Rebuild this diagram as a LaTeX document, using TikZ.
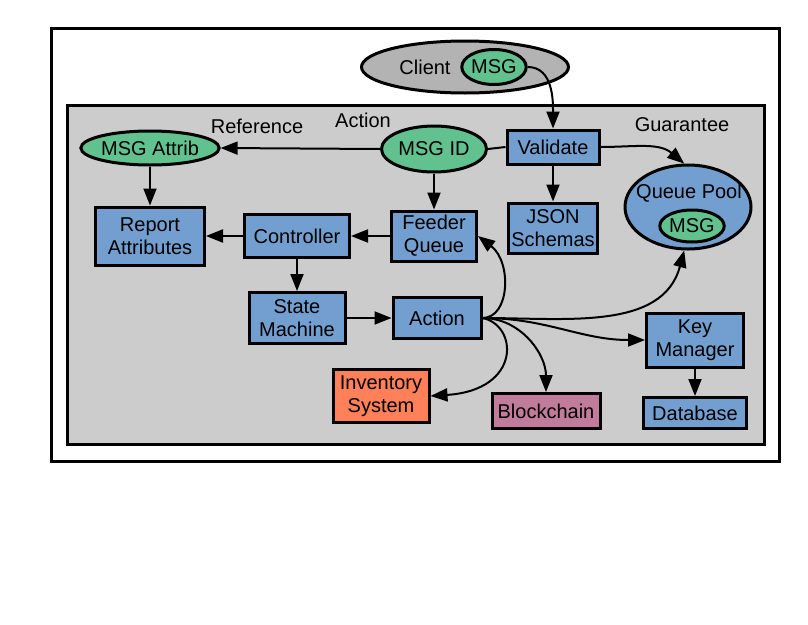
\documentclass[tikz,border=0pt]{standalone}
\usepackage{fontspec}
\setmainfont{Liberation Sans}
\usetikzlibrary{arrows.meta,positioning,shapes.geometric}
\definecolor{boxblue}{RGB}{114,159,207}
\definecolor{msggreen}{RGB}{98,194,143}
\definecolor{clientgray}{RGB}{179,179,179}
\definecolor{panelgray}{RGB}{204,204,204}
\definecolor{invorange}{RGB}{255,128,89}
\definecolor{chainpink}{RGB}{194,124,155}

\begin{document}
\begin{tikzpicture}[x=1pt,y=-1pt,>={Triangle[length=17pt,width=13pt]},line width=2pt,on grid,
		font=\fontsize{20}{23}\selectfont,
		block/.style={draw,line width=3pt,fill=boxblue,align=center,inner sep=1pt},
		msg/.style={ellipse,draw,line width=3pt,fill=msggreen,inner sep=0pt}]
		\useasboundingbox (0,0) rectangle (808,624);
		\draw[line width=3pt] (51,28) rectangle (779,461);
		\draw[line width=3pt,fill=panelgray] (67,105) rectangle (764,444);

		  \node[ellipse,draw,line width=3pt,fill=clientgray,minimum width=207pt,minimum height=52pt] (client) at (465,67) {};
		  \node                 (clienttext) at (425,67)             {Client};
		  \node[msg,minimum width=62pt,minimum height=35pt] (clientmsg) at (494,67) {MSG};

		  \node[block,minimum width=92pt,minimum height=34pt]  (validate) at (553,147)      {Validate};
		  \node[block,minimum width=89pt,minimum height=50pt]  (json)     [below=81pt of validate] {JSON\\Schemas};
		  \node[msg,minimum width=105pt,minimum height=46pt]   (msgid)    at (434,149)      {MSG ID};
		  \node[block,minimum width=85pt,minimum height=50pt]  (feeder)   [below=87pt of msgid]    {Feeder\\Queue};
		  \node[block,minimum width=105pt,minimum height=43pt] (controller) [left=137pt of feeder] {Controller};
		  \node[block,minimum width=109pt,minimum height=58pt] (report)   [left=147pt of controller] {Report\\Attributes};
		  \node[msg,minimum width=124pt,minimum height=34pt]   (msgattrib) [above=88pt of report] {MSG Attrib};
		  \node[block,minimum width=96pt,minimum height=51pt]  (state)    [below=82pt of controller] {State\\Machine};
		  \node[block,minimum width=88pt,minimum height=41pt]  (action)   [right=140pt of state]   {Action};

		  \node[ellipse,draw,line width=3pt,fill=boxblue,minimum width=126pt,minimum height=84pt] (pool) at (688,207) {};
		  \node                 (pooltext) at (689,193)              {Queue Pool};
		  \node[msg,minimum width=62pt,minimum height=32pt]    (poolmsg)  at (692,226)      {MSG};

		  \node[block,minimum width=97pt,minimum height=54pt]  (key)      at (695,340)      {Key\\Manager};
		  \node[block,minimum width=103pt,minimum height=31pt] (database) [below=73pt of key]      {Database};
		  \node[block,fill=invorange,minimum width=96pt,minimum height=53pt] (inventory) at (381,396) {Inventory\\System};
		  \node[block,fill=chainpink,minimum width=108pt,minimum height=35pt] (blockchain) at (546,411) {Blockchain};

		  \node (reflabel)  at (257,126) {Reference};
		  \node (actlabel)  at (363,120) {Action};
		  \node (guarlabel) at (682,125) {Guarantee};

		\tikzset{flow/.style={->}}
		\path (msgid.west)       edge [flow]    (msgattrib.east)
			  (msgid.east)       edge [-]       (validate.west)
			  (msgid)            edge [flow]    (feeder)
			  (validate)         edge [flow]    (json)
			  (msgattrib)        edge [flow]    (report)
			  (feeder)           edge [flow]    (controller)
			  (controller)       edge [flow]    (report)
			  (controller)       edge [flow]    (state)
			  (state)            edge [flow]    (action)
			  (key)              edge [flow]    (database);

		\tikzset{flow/.style={->,relative=false}}
		\path (clientmsg.east)   edge [flow,out=0,in=90]     (validate.north)
			  (validate.east)    edge [flow,out=0,in=140]    (pool.95)
			  (action.east)      edge [flow,out=0,in=-105]   (pool.265)
			  (action.east)      edge [flow,out=0,in=180]    (key.west)
			  (action.east)      edge [flow,out=0,in=90]     (blockchain.north);
		\draw[flow] (action.east) .. controls (510,318) and (512,262) .. (feeder.east);
		\draw[flow] (action.east) .. controls (518,325) and (522,390) .. (inventory.east);
	\end{tikzpicture}
\end{document}
